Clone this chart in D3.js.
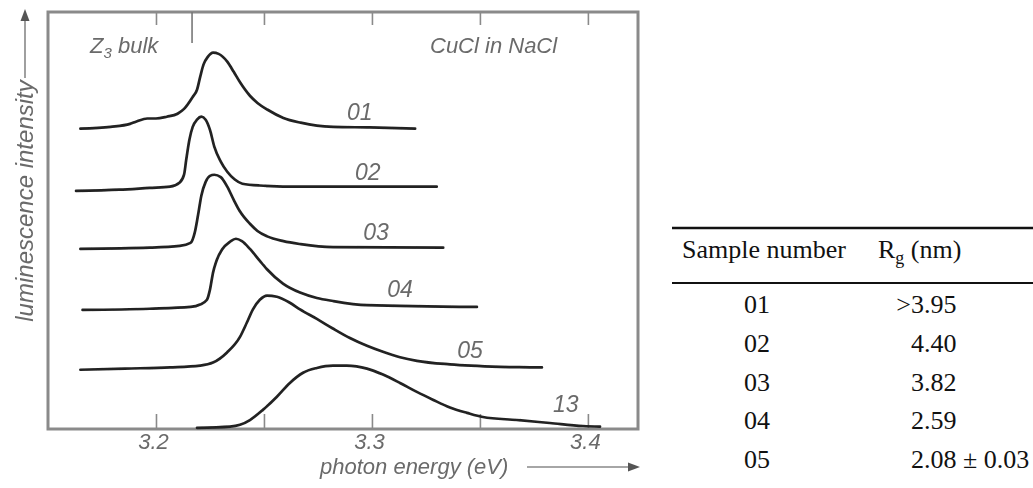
<!DOCTYPE html>
<html>
<head>
<meta charset="utf-8">
<script src="https://cdn.jsdelivr.net/npm/d3@7"></script>
<style>
  html, body { margin: 0; padding: 0; background: #fff; }
  svg { display: block; }
</style>
</head>
<body>
<svg id="chart" width="1033" height="488"></svg>
<script>
// Luminescence spectra of CuCl nanocrystals in NaCl (curves stacked by sample)
const sampleIds = ["01", "02", "03", "04", "05", "13"];
const baselineOffsets = [5, 3.98, 2.99, 1.99, 0.99, 0];

const energy01 = [3.165, 3.179, 3.188, 3.191, 3.196, 3.200, 3.205, 3.210, 3.213, 3.217, 3.219, 3.2205, 3.222, 3.224, 3.2265, 3.229, 3.233, 3.236, 3.239, 3.2435, 3.247, 3.2515, 3.259, 3.267, 3.2745, 3.282, 3.299, 3.320];
const intensity01 = [0, 0.03, 0.08, 0.12, 0.17, 0.17, 0.20, 0.25, 0.33, 0.53, 0.65, 0.87, 1.07, 1.20, 1.27, 1.25, 1.12, 0.95, 0.77, 0.55, 0.43, 0.32, 0.18, 0.10, 0.05, 0.03, 0.02, 0];

const energy02 = [3.163, 3.183, 3.197, 3.2065, 3.211, 3.213, 3.214, 3.2155, 3.217, 3.219, 3.221, 3.223, 3.225, 3.227, 3.230, 3.233, 3.2365, 3.240, 3.248, 3.267, 3.330];
const intensity02 = [-0.02, 0, 0.03, 0.05, 0.12, 0.25, 0.50, 0.84, 1.05, 1.17, 1.22, 1.17, 1.00, 0.72, 0.47, 0.30, 0.17, 0.10, 0.07, 0.05, 0.05];

const energy03 = [3.165, 3.197, 3.211, 3.216, 3.218, 3.2195, 3.221, 3.223, 3.225, 3.227, 3.230, 3.233, 3.236, 3.239, 3.2435, 3.247, 3.2515, 3.259, 3.267, 3.282, 3.333];
const intensity03 = [0, 0.02, 0.05, 0.10, 0.28, 0.57, 0.89, 1.12, 1.22, 1.24, 1.20, 1.04, 0.82, 0.62, 0.42, 0.30, 0.21, 0.13, 0.08, 0.03, 0.02];

const energy04 = [3.166, 3.197, 3.216, 3.2204, 3.2236, 3.225, 3.2264, 3.2282, 3.2306, 3.2343, 3.237, 3.2398, 3.2435, 3.2481, 3.2514, 3.2588, 3.2667, 3.2745, 3.2819, 3.2977, 3.3486];
const intensity04 = [-0.02, 0, 0.03, 0.07, 0.15, 0.32, 0.60, 0.82, 0.99, 1.12, 1.17, 1.13, 1.00, 0.80, 0.66, 0.42, 0.27, 0.18, 0.13, 0.06, 0.03];

const energy05 = [3.165, 3.1856, 3.2065, 3.2204, 3.2264, 3.2329, 3.2389, 3.2421, 3.2449, 3.2481, 3.2514, 3.256, 3.262, 3.2667, 3.2745, 3.2819, 3.2898, 3.2977, 3.3051, 3.313, 3.3208, 3.3361, 3.3593, 3.3787];
const intensity05 = [-0.02, 0, 0.02, 0.05, 0.10, 0.27, 0.53, 0.77, 0.99, 1.15, 1.22, 1.20, 1.10, 0.99, 0.83, 0.67, 0.51, 0.38, 0.28, 0.19, 0.13, 0.07, 0.03, 0.02];

const energy13 = [3.219, 3.2343, 3.2389, 3.2435, 3.2495, 3.256, 3.262, 3.2681, 3.2745, 3.2819, 3.2884, 3.2977, 3.3051, 3.313, 3.3208, 3.3282, 3.3361, 3.344, 3.3514, 3.3671, 3.3824, 3.3977, 3.4056];
const intensity13 = [0, 0.02, 0.05, 0.13, 0.30, 0.52, 0.75, 0.92, 1.00, 1.04, 1.04, 0.99, 0.89, 0.75, 0.60, 0.47, 0.34, 0.25, 0.18, 0.13, 0.08, 0.03, 0.02];

const seriesEnergy = [energy01, energy02, energy03, energy04, energy05, energy13];
const seriesIntensity = [intensity01, intensity02, intensity03, intensity04, intensity05, intensity13];

// Axis ticks (eV) and their labels
const energyTicks = [3.2, 3.25, 3.3, 3.35, 3.4];
const energyTickLabels = ["3.2", "", "3.3", "", "3.4"];
const bulkZ3Energy = 3.2167;

// Table of sample radii
const tableSamples = ["01", "02", "03", "04", "05"];
const tableRadii = [">3.95", "4.40", "3.82", "2.59", "2.08 ± 0.03"];

const svg = d3.select("#chart");
svg.append("rect").attr("width", 1033).attr("height", 488).attr("fill", "#fff");

const defs = svg.append("defs");
defs.append("filter").attr("id", "soft")
  .append("feGaussianBlur").attr("stdDeviation", 0.45);

const plot = { left: 48, right: 638, top: 12, bottom: 429 };
const x = d3.scaleLinear().domain([3.15, 3.4232]).range([plot.left, plot.right]);
const y = d3.scaleLinear().domain([-0.02, 6.95]).range([plot.bottom, plot.top]);

const g = svg.append("g").attr("filter", "url(#soft)");
const axisGrey = "#8a8a8a";
const textGrey = "#6a6a6a";
const italic = "'Liberation Sans', Arial, sans-serif";

// Bottom axis: inward ticks, labels on whole tenths
const bottomAxis = d3.axisBottom(x)
  .tickValues(energyTicks)
  .tickSizeInner(-15).tickSizeOuter(0).tickPadding(4)
  .tickFormat((d, i) => energyTickLabels[i]);
const bAxis = g.append("g").attr("transform", `translate(0,${plot.bottom})`).call(bottomAxis);
bAxis.select(".domain").remove();
bAxis.selectAll(".tick line").attr("stroke", axisGrey).attr("stroke-width", 1.6);
bAxis.selectAll(".tick text")
  .attr("fill", textGrey).attr("font-family", italic).attr("font-style", "italic")
  .attr("font-size", 22).attr("dx", -3);

// Top axis: inward ticks only
const topAxis = d3.axisTop(x)
  .tickValues(energyTicks)
  .tickSizeInner(-13).tickSizeOuter(0)
  .tickFormat("");
const tAxis = g.append("g").attr("transform", `translate(0,${plot.top})`).call(topAxis);
tAxis.select(".domain").remove();
tAxis.selectAll(".tick line").attr("stroke", axisGrey).attr("stroke-width", 1.6);

// Frame
g.append("rect")
  .attr("x", plot.left).attr("y", plot.top)
  .attr("width", plot.right - plot.left).attr("height", plot.bottom - plot.top)
  .attr("fill", "none").attr("stroke", axisGrey).attr("stroke-width", 3);

// Bulk Z3 marker
g.append("line")
  .attr("x1", x(bulkZ3Energy)).attr("x2", x(bulkZ3Energy))
  .attr("y1", plot.top).attr("y2", plot.top + 31)
  .attr("stroke", "#777").attr("stroke-width", 1.6);

// Spectra
const line = d3.line()
  .x(d => x(d[0]))
  .y(d => y(d[1]))
  .curve(d3.curveMonotoneX);

sampleIds.forEach((id, i) => {
  const pts = seriesEnergy[i].map((e, k) => [e, seriesIntensity[i][k] + baselineOffsets[i]]);
  g.append("path")
    .datum(pts)
    .attr("d", line)
    .attr("fill", "none")
    .attr("stroke", "#222")
    .attr("stroke-width", 2.7)
    .attr("stroke-linejoin", "round")
    .attr("stroke-linecap", "round");
});

// Curve labels placed at an energy just above each baseline
const labelEnergy = [3.2944, 3.2981, 3.3019, 3.3130, 3.3454, 3.3898];
const labelLift = [0.14, 0.16, 0.15, 0.19, 0.17, 0.27];
g.selectAll("text.curve-label")
  .data(sampleIds)
  .join("text")
  .attr("class", "curve-label")
  .attr("x", (d, i) => x(labelEnergy[i]))
  .attr("y", (d, i) => y(baselineOffsets[i] + labelLift[i]))
  .attr("text-anchor", "middle")
  .attr("font-family", italic).attr("font-style", "italic")
  .attr("font-size", 23).attr("fill", textGrey)
  .text(d => d);

// Corner annotations
const z3 = g.append("text")
  .attr("x", 90).attr("y", 53)
  .attr("font-family", italic).attr("font-style", "italic")
  .attr("font-size", 22).attr("fill", textGrey);
z3.append("tspan").text("Z");
z3.append("tspan").attr("font-size", 15).attr("dy", 5).text("3");
z3.append("tspan").attr("dy", -5).text(" bulk");

g.append("text")
  .attr("x", 430).attr("y", 53)
  .attr("font-family", italic).attr("font-style", "italic")
  .attr("font-size", 22).attr("fill", textGrey)
  .text("CuCl in NaCl");

// Axis titles with arrows
g.append("text")
  .attr("x", 320).attr("y", 474)
  .attr("font-family", italic).attr("font-style", "italic")
  .attr("font-size", 22).attr("fill", textGrey)
  .text("photon energy (eV)");
g.append("line")
  .attr("x1", 527).attr("x2", 630).attr("y1", 467).attr("y2", 467)
  .attr("stroke", "#888").attr("stroke-width", 1.6);
g.append("path")
  .attr("d", "M640,467 L628,462.5 L628,471.5 Z")
  .attr("fill", "#555");

g.append("text")
  .attr("transform", "translate(33,201) rotate(-90)")
  .attr("text-anchor", "middle")
  .attr("font-family", italic).attr("font-style", "italic")
  .attr("font-size", 24).attr("fill", textGrey)
  .text("luminescence intensity");
g.append("line")
  .attr("x1", 25).attr("x2", 25).attr("y1", 78).attr("y2", 20)
  .attr("stroke", "#888").attr("stroke-width", 1.6);
g.append("path")
  .attr("d", "M25,9 L20.5,21 L29.5,21 Z")
  .attr("fill", "#555");

// Table
const serif = "'Liberation Serif', 'Times New Roman', serif";
const table = svg.append("g").attr("font-family", serif).attr("fill", "#111").attr("font-size", 26);

table.append("line").attr("x1", 672).attr("x2", 1033).attr("y1", 228).attr("y2", 228)
  .attr("stroke", "#111").attr("stroke-width", 2.5);
table.append("line").attr("x1", 672).attr("x2", 1033).attr("y1", 283).attr("y2", 283)
  .attr("stroke", "#111").attr("stroke-width", 2);

table.append("text").attr("x", 682).attr("y", 258).text("Sample number");
const rg = table.append("text").attr("x", 878).attr("y", 258);
rg.append("tspan").text("R");
rg.append("tspan").attr("font-size", 18).attr("dy", 6).text("g");
rg.append("tspan").attr("dy", -6).text(" (nm)");

const rowY = d3.scaleLinear().domain([0, tableSamples.length - 1]).range([313, 468]);
table.selectAll("text.sample")
  .data(tableSamples)
  .join("text")
  .attr("class", "sample")
  .attr("x", 757).attr("y", (d, i) => rowY(i))
  .attr("text-anchor", "middle")
  .text(d => d);

// Radii aligned on the decimal point
const decimalX = 924;
tableRadii.forEach((v, i) => {
  const cut = v.indexOf(".");
  table.append("text").attr("x", decimalX).attr("y", rowY(i))
    .attr("text-anchor", "end").text(v.slice(0, cut));
  table.append("text").attr("x", decimalX).attr("y", rowY(i))
    .attr("text-anchor", "start").text(v.slice(cut));
});
</script>
</body>
</html>
